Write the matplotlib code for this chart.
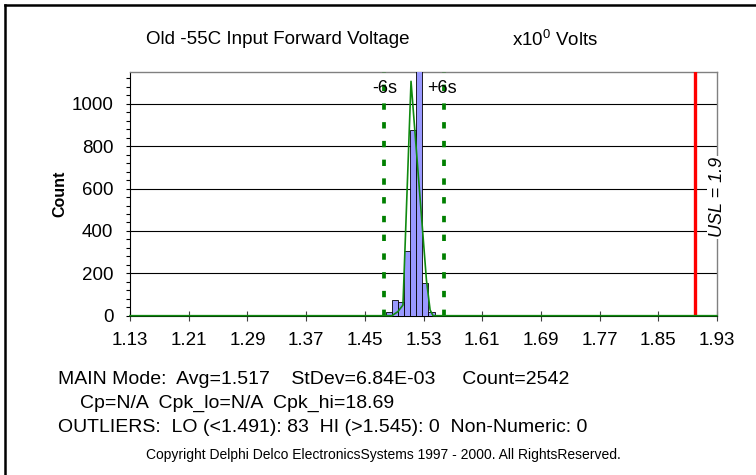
import numpy as np
import matplotlib
matplotlib.use("Agg")
from matplotlib import pyplot as plt
from matplotlib.lines import Line2D
from matplotlib.ticker import MultipleLocator

plt.rcParams['font.family'] = ['Liberation Sans', 'DejaVu Sans']

# histogram bins (edges) and counts
bin_edges = [1.4790, 1.4873, 1.4955, 1.5038, 1.5120, 1.5203, 1.5285, 1.5368, 1.5450]
bin_counts = [16, 74, 63, 306, 875, 1250, 153, 19]

# fitted curve, polyline vertices
curve_x = [1.13, 1.487, 1.495, 1.502, 1.513, 1.534, 1.539, 1.543, 1.93]
curve_y = [0, 0, 19, 50, 1106, 168, 27, 0, 0]

avg = 1.517
minus6s = 1.476
plus6s = 1.558
usl = 1.9

x_ticks = [1.13, 1.21, 1.29, 1.37, 1.45, 1.53, 1.61, 1.69, 1.77, 1.85, 1.93]
y_ticks = [0, 200, 400, 600, 800, 1000]

main_line = 'MAIN Mode:  Avg=1.517    StDev=6.84E-03     Count=2542'
cp_line = 'Cp=N/A  Cpk_lo=N/A  Cpk_hi=18.69'
outliers_line = 'OUTLIERS:  LO (<1.491): 83  HI (>1.545): 0  Non-Numeric: 0'

W, H = 756, 475
fig = plt.figure(figsize=(W / 100, H / 100), dpi=100)
ax = fig.add_axes([130 / W, 1 - 315.7 / H, (717 - 130) / W, (315.7 - 72) / H])

widths = np.diff(bin_edges)
ax.bar(bin_edges[:-1], bin_counts, width=widths, align='edge',
       color='#9999ff', edgecolor='black', linewidth=0.6, zorder=3)

for v in y_ticks[1:]:
    ax.axhline(v, color='black', lw=0.8, zorder=1)

ax.plot(curve_x, curve_y, color='#108a10', lw=1.2, zorder=5, clip_on=False)

for xv in (minus6s, plus6s):
    ax.axvline(xv, color='#008000', lw=2.7, dashes=(1.7, 3.3), zorder=4)
ax.axvline(usl, color='#ff0000', lw=2.4, zorder=4)

ax.set_xlim(1.13, 1.93)
ax.set_ylim(0, 1150)
ax.set_xticks(x_ticks)
ax.set_xticklabels([f'{t:.2f}' for t in x_ticks])
ax.set_yticks(y_ticks)
ax.yaxis.set_minor_locator(MultipleLocator(40))
ax.tick_params(axis='x', direction='inout', length=7, width=0.8, colors='#404040',
               labelcolor='black', labelsize=13.5, pad=8)
ax.tick_params(axis='y', which='both', direction='out', length=3, width=0.8,
               labelsize=13.5, pad=9)

for s in ('top', 'right'):
    ax.spines[s].set_color('#808080')
    ax.spines[s].set_linewidth(1.0)
ax.spines['left'].set_linewidth(0.8)
ax.spines['bottom'].set_linewidth(0.8)

ax.set_ylabel('Count', fontsize=11.5, fontweight='bold', labelpad=3)

ax.text(minus6s + 0.0015, 1070, '-6s', fontsize=13, ha='center', va='center', zorder=6)
ax.text(plus6s - 0.0035, 1070, '+6s', fontsize=13, ha='center', va='center', zorder=6)

ax.text(1.93, 560, 'USL = 1.9', rotation=90, style='italic', fontsize=13,
        ha='center', va='center', zorder=7, clip_on=False,
        bbox=dict(facecolor='white', edgecolor='none', pad=1))

def fx(px):
    return px / W

def fy(py):
    return 1 - py / H

fig.text(fx(278), fy(40), 'Old -55C Input Forward Voltage', fontsize=13.5,
         ha='center', va='center')
fig.text(fx(555), fy(40), r'x10$^{\mathregular{0}}$ Volts', fontsize=13.5,
         ha='center', va='center')

fig.text(fx(58), fy(380), main_line, fontsize=14, ha='left', va='center')
fig.text(fx(80), fy(403), cp_line, fontsize=14, ha='left', va='center')
fig.text(fx(58), fy(427), outliers_line, fontsize=14, ha='left', va='center')
fig.text(fx(383), fy(455),
         'Copyright Delphi Delco ElectronicsSystems 1997 - 2000. All RightsReserved.',
         fontsize=10, ha='center', va='center')

# outer frame (left and top edges are visible)
fig.add_artist(Line2D([fx(5), fx(5)], [fy(5), 0], color='black', lw=1.8))
fig.add_artist(Line2D([fx(5), 1], [fy(5), fy(5)], color='black', lw=1.8))

fig.savefig('out.png', dpi=100)
